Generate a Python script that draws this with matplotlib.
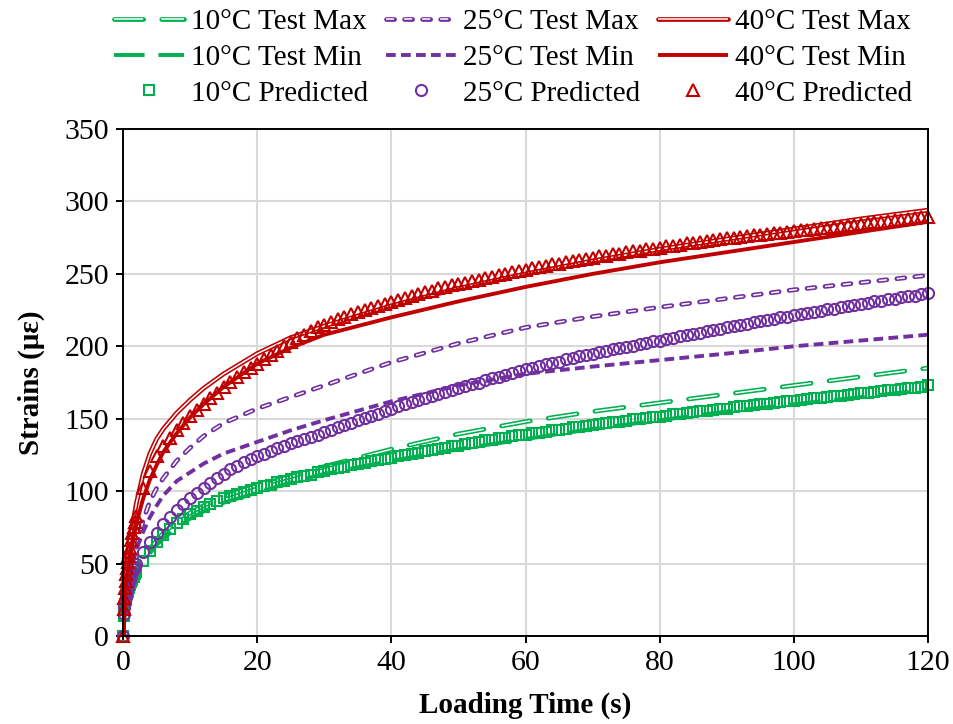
import matplotlib
matplotlib.use('Agg')
import matplotlib.pyplot as plt
import matplotlib.patheffects as pe

plt.rcParams['font.family'] = ['Liberation Serif', 'DejaVu Serif']
plt.rcParams['lines.scale_dashes'] = False

# colores de cada temperatura
VERDE = '#00b050'
MORADO = '#7030a0'
ROJO = '#c00000'

# tiempos de los ensayos (s)
t_ensayo = [0, 0.25, 0.5, 1, 2, 3, 4, 5, 6, 8, 10, 12, 15, 20, 25, 30,
            40, 50, 60, 70, 80, 90, 100, 110, 120]

# deformaciones medidas (με)
max_10 = [0, 22, 29, 37, 47, 54, 60, 66, 71, 79, 85, 90, 96, 104, 110, 117,
          129, 139.5, 148, 155, 161, 167, 173, 179, 185]
min_10 = [0, 20, 27, 34, 44, 51, 57, 63, 67, 75, 81, 86, 92, 99, 106, 112,
          121, 129, 136, 143, 149, 155, 160, 165, 170]
max_25 = [0, 25, 33, 45, 62, 80, 93, 102, 109, 121, 130, 138, 147, 157, 165, 173,
          189, 202, 213, 220.5, 227, 233, 239, 244, 249]
min_25 = [0, 22, 30, 42, 60, 72, 82, 90, 97, 107, 113, 119, 126, 134, 142, 149,
          162, 173, 181, 186, 190.5, 195, 200, 204, 208]
max_40 = [0, 35, 50, 66, 92, 112, 126, 136, 143, 154, 163, 171, 181, 195, 206, 214,
          228, 240, 250, 259, 267, 274, 281, 288, 294]
min_40 = [0, 28, 40, 55, 78, 95, 108, 118, 127, 140, 151, 160, 172, 188, 199, 208,
          220, 231, 241, 250, 258, 265, 272, 279, 286]

# tiempos del modelo: primeros 2 s cada 0.1-0.2 s, luego cada segundo
t_pred = [0, 0.1, 0.2, 0.3, 0.4, 0.5, 0.6, 0.7, 0.8, 0.9, 1.0,
          1.2, 1.4, 1.6, 1.8, 2.0] + list(range(3, 121))

pred_10 = [0, 14, 19, 22, 25, 27, 29, 30.5, 32, 33.5, 35, 37, 39, 41, 42.5, 44,
           52, 59, 65, 70, 74, 78, 81, 84, 86.5, 89,
           91, 93, 95, 96.5, 98, 99.5, 101, 102, 103.5, 104.5,
           106, 107, 108.5, 109.5, 110.5, 111.5, 113, 114, 115, 116,
           117, 118, 119, 119.5, 120.5, 121.5, 122.5, 123, 124, 125,
           126, 126.5, 127.5, 128.5, 129, 130, 131, 131.5, 132.5, 133,
           134, 135, 135.5, 136.5, 137, 138, 138.5, 139, 140, 140.5,
           141, 142, 142.5, 143, 144, 144.5, 145, 145.5, 146.5, 147,
           147.5, 148, 148.5, 149.5, 150, 150.5, 151, 151.5, 152, 153,
           153.5, 154, 154.5, 155, 155.5, 156, 156.5, 157, 158, 158.5,
           159, 159.5, 160, 160.5, 161, 161.5, 162, 162.5, 163, 163.5,
           164, 164.5, 165, 165.5, 166, 166.5, 167, 167.5, 168, 168.5,
           169, 169.5, 170, 170.5, 171, 171.5, 172, 173]
pred_25 = [0, 15, 20, 24, 27, 30, 32, 34, 36, 37.5, 39, 42, 44, 46, 48, 50,
           58, 65, 71, 77, 82, 87, 91, 95, 99, 102,
           105.5, 109, 112, 115, 117.5, 120, 122, 124, 126, 128,
           130, 131.5, 133, 134.5, 136, 137.5, 139, 141, 142.5, 144,
           145.5, 147, 149, 150.5, 152, 153.5, 155, 157, 158.5, 160,
           161.5, 163, 164, 165.5, 167, 168.5, 170, 171, 172.5, 174,
           175, 176.5, 178, 179, 180.5, 181.5, 183, 184, 185, 186.5,
           187.5, 188.5, 189.5, 191, 192, 193, 194, 195, 196, 197,
           198, 199, 199.5, 200.5, 201.5, 202.5, 203.5, 204, 205, 206,
           207, 208, 208.5, 209.5, 210.5, 211.5, 212, 213, 214, 215,
           215.5, 216.5, 217.5, 218, 219, 220, 220.5, 221.5, 222, 223,
           224, 224.5, 225.5, 226, 227, 228, 228.5, 229.5, 230, 231,
           231.5, 232.5, 233, 234, 234.5, 235, 236, 236.5]
pred_40 = [0, 19, 26, 33, 38, 43, 47, 51, 55, 58, 61, 66, 71, 75, 79, 83,
           102, 114, 124, 131, 137, 142, 147, 152, 156, 160,
           164, 168, 172, 175.5, 179, 182, 185, 188, 191, 194,
           197, 200, 203, 205.5, 208, 210.5, 213, 215, 217, 219,
           220.5, 222, 223.5, 225, 226.5, 228, 229, 230.5, 232, 233.5,
           235, 236, 237.5, 238.5, 240, 241, 242, 243, 244, 245,
           246, 247, 248, 249, 250, 251, 252, 253, 254, 254.5,
           255.5, 256.5, 257, 258, 259, 259.5, 260.5, 261, 262, 262.5,
           263.5, 264, 265, 265.5, 266, 267, 267.5, 268, 269, 269.5,
           270, 271, 271.5, 272, 272.5, 273.5, 274, 274.5, 275, 275.5,
           276, 276.5, 277, 277.5, 278, 278.5, 279, 279.5, 280, 280.5,
           281, 281.5, 282, 282.5, 283, 283.5, 284, 284.5, 285, 285.5,
           286, 286.5, 287, 287.5, 288, 288.5, 289, 289.5]

fig = plt.figure(figsize=(9.54, 7.24), dpi=100)
ax = fig.add_axes([0.129, 0.1215, 0.8438, 0.7003])


def linea_doble(x, y, color, dashes, label):
    # linea hueca: trazo grueso de color y centro blanco
    ln, = ax.plot(x, y, color='white', lw=1.1, label=label,
                  solid_capstyle='butt', dash_capstyle='butt',
                  path_effects=[pe.Stroke(linewidth=3.4, foreground=color,
                                          capstyle='round'),
                                pe.Normal()])
    if dashes:
        ln.set_dashes(dashes)
    return ln


def linea_llena(x, y, color, dashes, label):
    ln, = ax.plot(x, y, color=color, lw=2.8, label=label,
                  solid_capstyle='butt', dash_capstyle='butt')
    if dashes:
        ln.set_dashes(dashes)
    return ln


def marcadores(x, y, color, marker, ms, label):
    ln, = ax.plot(x, y, ls='none', marker=marker, mfc='none', mec=color,
                  ms=ms, mew=1.5, label=label, clip_on=False)
    return ln


h = []
h.append(linea_doble(t_ensayo, max_10, VERDE, (21, 13), '10°C Test Max'))
h.append(linea_llena(t_ensayo, min_10, VERDE, (22, 10), '10°C Test Min'))
h.append(marcadores(t_pred, pred_10, VERDE, 's', 7.5, '10°C Predicted'))
h.append(linea_doble(t_ensayo, max_25, MORADO, (5.8, 7.2), '25°C Test Max'))
h.append(linea_llena(t_ensayo, min_25, MORADO, (7, 3.8), '25°C Test Min'))
h.append(marcadores(t_pred, pred_25, MORADO, 'o', 8, '25°C Predicted'))
h.append(linea_doble(t_ensayo, max_40, ROJO, None, '40°C Test Max'))
h.append(linea_llena(t_ensayo, min_40, ROJO, None, '40°C Test Min'))
h.append(marcadores(t_pred, pred_40, ROJO, '^', 8.5, '40°C Predicted'))

ax.set_xlim(0, 120)
ax.set_ylim(0, 350)
ax.set_xticks(range(0, 121, 20))
ax.set_yticks(range(0, 351, 50))
ax.grid(color='#d9d9d9', lw=1.5)
ax.set_axisbelow(True)
for s in ax.spines.values():
    s.set_linewidth(1.4)
    s.set_color('black')
ax.tick_params(direction='out', length=5, width=1.4, labelsize=21.5, pad=5)

ax.set_xlabel('Loading Time (s)', fontsize=21, fontweight='bold', labelpad=11)
ax.set_ylabel('Strains (με)', fontsize=21, fontweight='bold', labelpad=14)

fig.legend(handles=h, ncol=3, loc='upper center', bbox_to_anchor=(0.538, 0.996),
           frameon=False, fontsize=21, handlelength=2.4, handletextpad=0.25,
           columnspacing=0.6, labelspacing=0.32, numpoints=1, borderaxespad=0.1,
           borderpad=0.1)

fig.savefig('out.png', dpi=100)
